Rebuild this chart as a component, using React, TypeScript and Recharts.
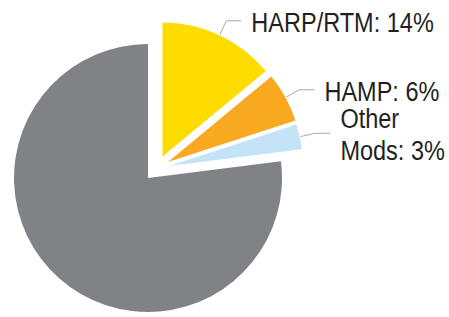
import React from 'react';
import { PieChart, Pie, Cell } from 'recharts';

const categories = ['HARP/RTM', 'HAMP', 'Other Mods', 'Rest'];
const values = [14, 6, 3, 77];
const labelLines: string[][] = [['HARP/RTM: 14%'], ['HAMP: 6%'], ['Other', 'Mods: 3%'], []];
const colors = ['#FFDC00', '#F8A91F', '#C5E3F7', '#818285'];

// layout: centre of each (exploded) slice
const sliceCenters = [
  { cx: 162.5, cy: 156.5 },
  { cx: 168, cy: 162 },
  { cx: 169, cy: 166 },
  { cx: 148, cy: 178 },
];
const drawOrder = [3, 0, 1, 2];

const data = categories.map((name, i) => ({ name, value: values[i] }));

const RADIAN = Math.PI / 180;
const FONT = 'Liberation Sans, Arial, Helvetica, sans-serif';

const makeLabel = (target: number) => (props: any) => {
  const { cx, cy, midAngle, outerRadius, index } = props;
  const lines = labelLines[target];
  if (index !== target || !lines || lines.length === 0) return null;
  const cos = Math.cos(-midAngle * RADIAN);
  const sin = Math.sin(-midAngle * RADIAN);
  const sx = cx + (outerRadius + 1) * cos;
  const sy = cy + (outerRadius + 1) * sin;
  const mx = cx + (outerRadius + 16) * cos;
  const my = cy + (outerRadius + 16) * sin;
  const ex = mx + 15;
  const ey = my;
  const lh = 31.7;
  const first = ey + 11 - ((lines.length - 1) * lh) / 2;
  return (
    <g key={`lbl-${target}`}>
      <polyline
        points={`${sx},${sy} ${mx},${my} ${ex},${ey}`}
        stroke="#A7A9AC"
        strokeWidth={1}
        fill="none"
      />
      {lines.map((t, k) => (
        <text
          key={k}
          transform={`translate(${ex + 10},${first + k * lh}) scale(0.84,1)`}
          fontSize={28}
          fill="#231F20"
          fontFamily={FONT}
        >
          {t}
        </text>
      ))}
    </g>
  );
};

export default function App() {
  return (
    <div style={{ position: 'absolute', left: 0, top: 0, background: '#fff' }}>
      <PieChart width={449} height={317} margin={{ top: 0, right: 0, bottom: 0, left: 0 }}>
        {drawOrder.map((target) => (
          <Pie
            key={target}
            data={data}
            dataKey="value"
            nameKey="name"
            cx={sliceCenters[target].cx}
            cy={sliceCenters[target].cy}
            outerRadius={134}
            innerRadius={0}
            startAngle={90}
            endAngle={-270}
            stroke="none"
            isAnimationActive={false}
            label={makeLabel(target)}
            labelLine={false}
          >
            {data.map((d, i) => (
              <Cell
                key={d.name}
                fill={i === target ? colors[i] : 'none'}
                stroke="none"
              />
            ))}
          </Pie>
        ))}
      </PieChart>
    </div>
  );
}
